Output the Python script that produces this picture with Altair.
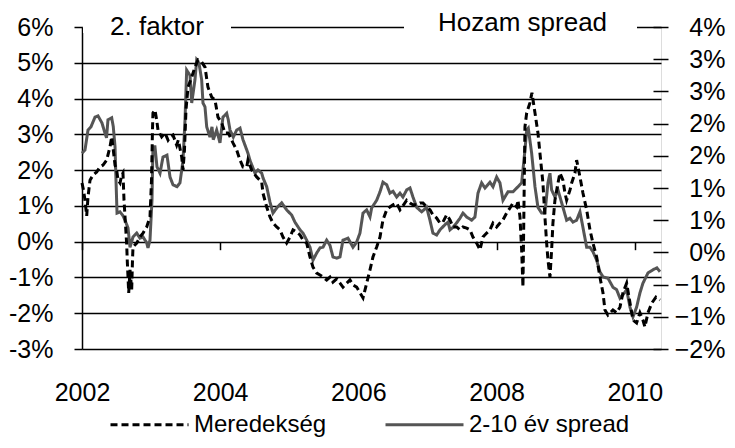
import altair as alt
import pandas as pd

FONT = "Liberation Sans"

series_names = ["Meredekség", "2-10 év spread"]
titles_left = ["2. faktor"]
titles_right = ["Hozam spread"]

x_ticks = [2002, 2004, 2006, 2008, 2010]
left_ticks = [-3, -2, -1, 0, 1, 2, 3, 4, 5, 6]
right_ticks = [-1.5, -1.0, -0.5, 0.0, 0.5, 1.0, 1.5, 2.0, 2.5, 3.0, 3.5]

# Meredekség (2. faktor), left axis, percent
dash_year = [2002.000, 2002.022, 2002.043, 2002.068, 2002.087, 2002.116, 2002.159, 2002.213, 2002.260, 2002.304,
             2002.357, 2002.405, 2002.430, 2002.453, 2002.478, 2002.502, 2002.521, 2002.550, 2002.575, 2002.593,
             2002.608, 2002.630, 2002.647, 2002.656, 2002.666, 2002.676, 2002.695, 2002.719, 2002.731, 2002.738,
             2002.792, 2002.839, 2002.883, 2002.936, 2002.984, 2003.006, 2003.020, 2003.027, 2003.056, 2003.081,
             2003.100, 2003.153, 2003.201, 2003.245, 2003.274, 2003.317, 2003.370, 2003.394, 2003.443, 2003.462,
             2003.483, 2003.505, 2003.534, 2003.588, 2003.635, 2003.679, 2003.732, 2003.780, 2003.823, 2003.877,
             2003.925, 2003.968, 2004.022, 2004.069, 2004.117, 2004.185, 2004.239, 2004.287, 2004.330, 2004.384,
             2004.402, 2004.456, 2004.528, 2004.601, 2004.619, 2004.673, 2004.721, 2004.764, 2004.818, 2004.865,
             2004.909, 2004.962, 2005.010, 2005.054, 2005.107, 2005.155, 2005.198, 2005.252, 2005.300, 2005.343,
             2005.397, 2005.444, 2005.488, 2005.541, 2005.589, 2005.632, 2005.686, 2005.734, 2005.777, 2005.831,
             2005.878, 2005.922, 2005.975, 2006.023, 2006.067, 2006.120, 2006.168, 2006.211, 2006.265, 2006.313,
             2006.356, 2006.410, 2006.457, 2006.501, 2006.554, 2006.602, 2006.645, 2006.699, 2006.747, 2006.790,
             2006.844, 2006.891, 2006.935, 2006.988, 2007.036, 2007.079, 2007.133, 2007.181, 2007.224, 2007.278,
             2007.326, 2007.369, 2007.423, 2007.470, 2007.514, 2007.567, 2007.615, 2007.658, 2007.712, 2007.760,
             2007.803, 2007.857, 2007.904, 2007.948, 2008.001, 2008.049, 2008.093, 2008.146, 2008.194, 2008.237,
             2008.291, 2008.310, 2008.339, 2008.363, 2008.382, 2008.396, 2008.411, 2008.436, 2008.483, 2008.512,
             2008.556, 2008.599, 2008.638, 2008.671, 2008.700, 2008.725, 2008.744, 2008.773, 2008.797, 2008.816,
             2008.845, 2008.889, 2008.918, 2008.961, 2008.990, 2009.014, 2009.062, 2009.087, 2009.135, 2009.159,
             2009.207, 2009.250, 2009.304, 2009.352, 2009.395, 2009.449, 2009.496, 2009.540, 2009.569, 2009.612,
             2009.684, 2009.738, 2009.786, 2009.829, 2009.883, 2009.931, 2009.974, 2010.027, 2010.075, 2010.118,
             2010.147, 2010.191, 2010.249, 2010.307, 2010.365]
dash_value = [1.64, 1.44, 1.16, 0.72, 1.25, 1.72, 1.86, 1.95, 2.09, 2.14,
              2.28, 2.65, 2.93, 2.56, 2.14, 2.00, 1.72, 1.64, 1.86, 1.92,
              1.16, 0.47, -0.09, -0.57, -0.99, -1.43, -0.79, -1.35, -0.51, -0.15,
              -0.04, 0.13, 0.24, 0.41, 0.69, 1.72, 3.12, 3.60, 3.68, 3.40,
              3.12, 2.93, 3.04, 2.84, 2.93, 2.98, 2.70, 2.84, 2.37, 2.00,
              2.56, 3.68, 4.32, 4.60, 4.88, 5.08, 5.02, 4.88, 4.32, 4.04,
              3.96, 3.48, 3.32, 3.04, 3.04, 2.76, 2.56, 2.28, 2.09, 2.09,
              2.28, 2.00, 1.81, 1.67, 1.36, 0.97, 0.69, 0.52, 0.41, 0.33,
              0.13, -0.04, 0.13, 0.33, 0.27, 0.19, 0.05, -0.04, -0.43, -0.71,
              -0.88, -0.93, -0.99, -1.07, -0.99, -1.13, -1.04, -1.16, -1.27, -1.16,
              -1.07, -1.21, -1.27, -1.43, -1.57, -1.16, -0.79, -0.43, -0.15, 0.13,
              0.61, 0.89, 0.97, 1.03, 1.08, 0.89, 1.00, 1.16, 1.08, 1.03,
              1.03, 1.08, 1.08, 0.97, 0.89, 0.75, 0.66, 0.52, 0.55, 0.75,
              0.61, 0.41, 0.41, 0.33, 0.41, 0.38, 0.33, 0.13, -0.04, -0.23,
              0.13, 0.24, 0.33, 0.52, 0.41, 0.52, 0.61, 0.80, 0.94, 1.08,
              0.97, 1.16, 0.69, -0.23, -1.27, 0.89, 3.21, 3.60, 3.88, 4.16,
              3.60, 3.04, 2.28, 1.64, 0.69, -0.04, -0.51, -0.99, -0.23, 0.52,
              1.16, 1.64, 1.92, 1.72, 1.36, 1.16, 1.44, 1.64, 1.92, 2.28,
              1.81, 1.36, 0.89, 0.33, -0.04, -0.43, -0.99, -1.43, -1.91, -2.05,
              -1.91, -1.99, -1.83, -1.43, -1.16, -1.71, -2.19, -2.27, -1.99, -2.19,
              -2.38, -1.99, -1.71, -1.55, -1.63]

# 2-10 év spread (Hozam spread), right axis, percent
spread_year = [2002.000, 2002.043, 2002.087, 2002.130, 2002.188, 2002.232, 2002.289, 2002.333, 2002.355, 2002.376,
               2002.430, 2002.453, 2002.478, 2002.492, 2002.507, 2002.550, 2002.593, 2002.622, 2002.666, 2002.695,
               2002.738, 2002.792, 2002.839, 2002.883, 2002.936, 2002.955, 2002.984, 2003.013, 2003.027, 2003.056,
               2003.085, 2003.129, 2003.172, 2003.230, 2003.274, 2003.317, 2003.375, 2003.418, 2003.462, 2003.491,
               2003.515, 2003.563, 2003.588, 2003.635, 2003.660, 2003.693, 2003.732, 2003.751, 2003.780, 2003.805,
               2003.852, 2003.881, 2003.900, 2003.949, 2003.997, 2004.040, 2004.094, 2004.117, 2004.142, 2004.190,
               2004.239, 2004.287, 2004.330, 2004.402, 2004.431, 2004.504, 2004.547, 2004.601, 2004.619, 2004.673,
               2004.721, 2004.764, 2004.818, 2004.890, 2004.962, 2005.035, 2005.082, 2005.155, 2005.198, 2005.252,
               2005.300, 2005.343, 2005.397, 2005.444, 2005.488, 2005.541, 2005.589, 2005.632, 2005.686, 2005.734,
               2005.777, 2005.850, 2005.922, 2005.975, 2006.023, 2006.067, 2006.120, 2006.168, 2006.192, 2006.265,
               2006.313, 2006.356, 2006.410, 2006.457, 2006.501, 2006.554, 2006.602, 2006.645, 2006.699, 2006.747,
               2006.790, 2006.844, 2006.916, 2006.988, 2007.036, 2007.079, 2007.133, 2007.181, 2007.253, 2007.297,
               2007.326, 2007.369, 2007.423, 2007.470, 2007.514, 2007.567, 2007.640, 2007.687, 2007.731, 2007.784,
               2007.832, 2007.904, 2007.948, 2008.001, 2008.049, 2008.093, 2008.165, 2008.237, 2008.310, 2008.363,
               2008.382, 2008.411, 2008.436, 2008.459, 2008.508, 2008.556, 2008.599, 2008.653, 2008.700, 2008.744,
               2008.773, 2008.797, 2008.845, 2008.889, 2008.961, 2009.014, 2009.062, 2009.106, 2009.159, 2009.207,
               2009.250, 2009.304, 2009.352, 2009.395, 2009.449, 2009.496, 2009.540, 2009.612, 2009.684, 2009.738,
               2009.786, 2009.829, 2009.883, 2009.931, 2009.974, 2010.027, 2010.075, 2010.118, 2010.191, 2010.263,
               2010.321, 2010.365]
spread_value = [1.54, 1.59, 1.90, 1.95, 2.10, 2.12, 2.01, 1.85, 1.78, 2.06,
                2.09, 1.95, 1.64, 1.12, 0.61, 0.63, 0.57, 0.50, 0.38, 0.08,
                0.24, 0.30, 0.22, 0.24, 0.15, 0.07, 0.19, 0.81, 1.64, 1.64,
                1.33, 1.23, 1.48, 1.51, 1.17, 1.05, 1.02, 1.08, 1.43, 2.06,
                2.83, 2.75, 2.32, 2.68, 2.99, 2.94, 2.68, 2.32, 2.26, 1.95,
                1.79, 1.95, 1.75, 1.90, 1.70, 2.10, 2.16, 2.06, 1.90, 1.79,
                1.90, 1.93, 1.75, 1.54, 1.43, 1.23, 1.28, 1.23, 1.16, 1.02,
                0.78, 0.61, 0.69, 0.77, 0.66, 0.58, 0.47, 0.35, 0.30, 0.19,
                0.08, -0.12, -0.01, 0.07, 0.08, 0.19, 0.11, -0.07, -0.09, -0.07,
                0.19, 0.22, 0.08, 0.16, 0.30, 0.61, 0.66, 0.55, 0.69, 0.81,
                0.94, 1.09, 1.05, 0.92, 0.95, 0.86, 0.92, 0.86, 0.97, 1.00,
                0.86, 0.70, 0.63, 0.70, 0.50, 0.30, 0.27, 0.35, 0.43, 0.47,
                0.35, 0.39, 0.46, 0.53, 0.61, 0.55, 0.50, 0.55, 0.92, 1.08,
                1.00, 1.09, 1.02, 1.17, 1.08, 0.81, 0.94, 0.94, 1.02, 1.08,
                1.28, 1.59, 1.90, 1.93, 1.54, 1.02, 0.70, 0.61, 0.61, 1.08,
                1.23, 0.97, 0.86, 0.97, 0.70, 0.50, 0.53, 0.47, 0.50, 0.63,
                0.39, 0.08, 0.08, 0.01, -0.12, -0.30, -0.38, -0.40, -0.54, -0.58,
                -0.71, -0.66, -0.58, -0.85, -1.00, -0.85, -0.63, -0.48, -0.32, -0.27,
                -0.24, -0.30]

df_dash = pd.DataFrame({"year": dash_year, "value": dash_value, "series": series_names[0]})
df_spread = pd.DataFrame({"year": spread_year, "value": spread_value, "series": series_names[1]})

W, H = 579, 322

x_enc = alt.X(
    "year:Q",
    scale=alt.Scale(domain=[2002, 2010.38], nice=False, zero=False),
    axis=alt.Axis(values=x_ticks, format="d", orient="bottom", offset=-107.3,
                  tickSize=8, tickColor="black", tickWidth=1.5, labelPadding=131,
                  domain=False, grid=False, title=None, labelFlush=False, labelOverlap=False,
                  labelFontSize=25, labelFont=FONT, labelColor="black"),
)

legend = alt.Legend(orient="none", legendX=27, legendY=357, direction="horizontal", title=None,
                    symbolType="stroke", symbolSize=6084, symbolStrokeWidth=3,
                    labelFontSize=24, labelFont=FONT, labelColor="black", labelLimit=400,
                    labelOffset=4, columnPadding=52, padding=0)

color_enc = alt.Color("series:N", scale=alt.Scale(domain=series_names, range=["#000000", "#555555"]),
                      legend=legend)
dash_enc = alt.StrokeDash("series:N", scale=alt.Scale(domain=series_names, range=[[7, 4], [1, 0]]),
                          legend=legend)

spread_line = alt.Chart(df_spread).mark_line(strokeWidth=3).encode(
    x=x_enc,
    y=alt.Y("value:Q", scale=alt.Scale(domain=[-1.5, 3.5], nice=False, zero=False),
            axis=alt.Axis(values=right_ticks, orient="right", offset=-8,
                          labelExpr="(datum.value < 0 ? '\u2212' : '') + round(abs(datum.value)) + '%'",
                          tickSize=15, tickColor="black", tickWidth=1.5, labelAlign="right",
                          labelPadding=57, labelLimit=200, domain=False, grid=False, title=None,
                          labelFlush=False, labelOverlap=False, labelFontSize=25, labelFont=FONT,
                          labelColor="black")),
    color=color_enc,
    strokeDash=dash_enc,
)

dash_line = alt.Chart(df_dash).mark_line(strokeWidth=3).encode(
    x=x_enc,
    y=alt.Y("value:Q", scale=alt.Scale(domain=[-3, 6], nice=False, zero=False),
            axis=alt.Axis(values=left_ticks, orient="left", labelExpr="datum.value + '%'",
                          tickSize=8, tickColor="black", tickWidth=1.5, labelPadding=21,
                          domain=True, domainColor="black", domainWidth=1.5,
                          grid=True, gridColor="black", gridWidth=1.5, title=None,
                          labelFlush=False, labelOverlap=False,
                          labelFontSize=25, labelFont=FONT, labelColor="black")),
    color=color_enc,
    strokeDash=dash_enc,
)

blank = pd.DataFrame({"k": [0]})
cover1 = alt.Chart(blank).mark_rect(color="white").encode(
    x=alt.value(1), x2=alt.value(149), y=alt.value(-6), y2=alt.value(6))
cover2 = alt.Chart(blank).mark_rect(color="white").encode(
    x=alt.value(322), x2=alt.value(555), y=alt.value(-6), y2=alt.value(6))

t1 = alt.Chart(pd.DataFrame({"label": titles_left})).mark_text(
    align="left", baseline="alphabetic", fontSize=26, font=FONT, color="black").encode(
    x=alt.value(28), y=alt.value(8), text="label:N")
t2 = alt.Chart(pd.DataFrame({"label": titles_right})).mark_text(
    align="left", baseline="alphabetic", fontSize=26, font=FONT, color="black").encode(
    x=alt.value(356), y=alt.value(4), text="label:N")

chart = alt.layer(spread_line, dash_line, cover1, cover2, t1, t2).resolve_scale(
    y="independent"
).properties(
    width=W, height=H,
    autosize=alt.AutoSizeParams(type="none"),
    padding={"left": 74, "top": 19, "right": 66, "bottom": 90},
).configure_view(stroke="black", strokeWidth=1.5).configure(font=FONT)

chart.save("out.html", embed_options={"renderer": "svg", "actions": False})
